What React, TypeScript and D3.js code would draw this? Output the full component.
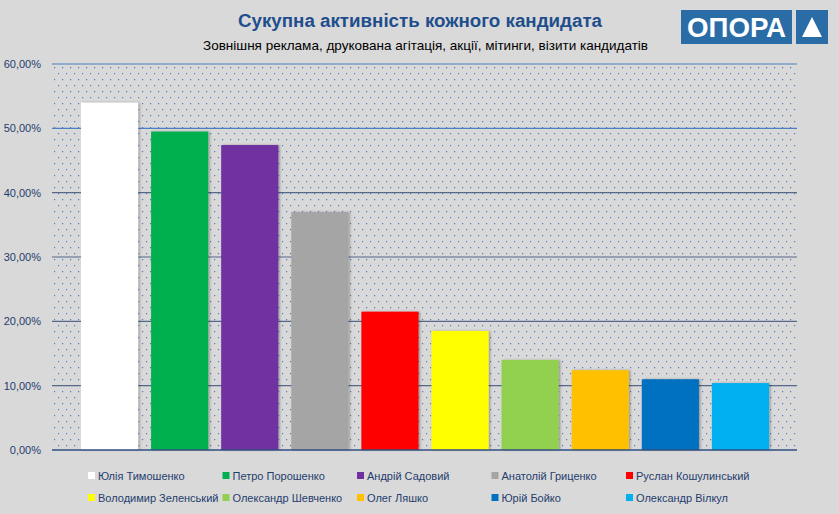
import * as d3 from "d3";

const candidates = [
  "Юлія Тимошенко",
  "Петро Порошенко",
  "Андрій Садовий",
  "Анатолій Гриценко",
  "Руслан Кошулинський",
  "Володимир Зеленський",
  "Олександр Шевченко",
  "Олег Ляшко",
  "Юрій Бойко",
  "Олександр Вілкул",
];
const activity = [54.0, 49.5, 47.4, 37.0, 21.5, 18.5, 14.0, 12.4, 11.0, 10.4];
const barColors = ["#ffffff", "#00b050", "#7030a0", "#a5a5a5", "#ff0000", "#ffff00", "#92d050", "#ffc000", "#0070c0", "#00b0f0"];
const yTicks = [0, 10, 20, 30, 40, 50, 60];

const title = "Сукупна активність кожного кандидата";
const subtitle = "Зовнішня реклама, друкована агітація, акції, мітинги, візити кандидатів";

export default function App() {
  const width = 839;
  const height = 514;
  const plot = { left: 52, right: 797, top: 64, bottom: 450 };
  const x = d3.scaleBand<string>().domain(candidates).range([74.5, 775.5]).paddingInner(0.185).paddingOuter(0.0925);
  const y = d3.scaleLinear().domain([0, 60]).range([plot.bottom, plot.top]);
  const fmt = (v: number) => v.toFixed(2).replace(".", ",") + "%";
  const legendX = d3.scaleLinear().domain([0, 4]).range([88, 626]);
  const textColor = "#1f3d6e";

  return (
    <svg width={width} height={height} style={{ position: "absolute", left: 0, top: 0 }} fontFamily="'Liberation Sans', Arial, sans-serif">
      <defs>
        <pattern id="dots" width={8} height={12} patternUnits="userSpaceOnUse" x={plot.left + 2} y={plot.top + 3}>
          <rect x={0} y={0} width={1.2} height={1.2} fill="#4f7fc0" />
          <rect x={4} y={6} width={1.2} height={1.2} fill="#4f7fc0" />
        </pattern>
        <filter id="shadow" x="-10%" y="-10%" width="130%" height="130%">
          <feDropShadow dx={1.5} dy={0} stdDeviation={1.2} floodColor="#000" floodOpacity={0.3} />
        </filter>
      </defs>
      <rect width={width} height={height} fill="#d9d9d9" />

      <text x={420} y={27} textAnchor="middle" fontSize={18} fontWeight="bold" fill="#1f4e8c" textLength={364} lengthAdjust="spacingAndGlyphs">{title}</text>
      <text x={425.5} y={50} textAnchor="middle" fontSize={13} fill="#000" textLength={445} lengthAdjust="spacingAndGlyphs">{subtitle}</text>

      <g>
        <rect x={681} y={10} width={111} height={34} fill="#2a6da6" />
        <text x={736.5} y={37} textAnchor="middle" fontSize={27} fontWeight="bold" fill="#fff" textLength={99} lengthAdjust="spacingAndGlyphs">ОПОРА</text>
        <rect x={796} y={10} width={32} height={34} fill="#2a6da6" />
        <path d="M812,17 L822,37 L802,37 Z" fill="#fff" />
      </g>

      <rect x={plot.left} y={plot.top} width={plot.right - plot.left} height={plot.bottom - plot.top} fill="url(#dots)" />

      {yTicks.map((t) => (
        <g key={t}>
          {t > 0 && (
            <line x1={plot.left} x2={plot.right} y1={y(t)} y2={y(t)} stroke={t >= 50 ? "#4a7ec0" : "#56698a"} strokeWidth={1.2} />
          )}
          <text x={41} y={y(t) + 4} textAnchor="end" fontSize={11} fill={textColor}>{fmt(t)}</text>
        </g>
      ))}

      {candidates.map((c, i) => (
        <rect key={c} x={x(c)} y={y(activity[i])} width={x.bandwidth()} height={y(0) - y(activity[i])} fill={barColors[i]} filter="url(#shadow)" />
      ))}

      <line x1={plot.left} x2={plot.right} y1={plot.bottom} y2={plot.bottom} stroke="#2f4f80" strokeWidth={1.5} />

      {candidates.map((c, i) => {
        const col = i % 5;
        const row = Math.floor(i / 5);
        const lx = legendX(col);
        const ly = 476 + row * 22;
        return (
          <g key={c}>
            <rect x={lx} y={ly - 4} width={7} height={7} fill={barColors[i]} />
            <text x={lx + 10} y={ly + 3.5} fontSize={11} fill={textColor}>{c}</text>
          </g>
        );
      })}
    </svg>
  );
}
